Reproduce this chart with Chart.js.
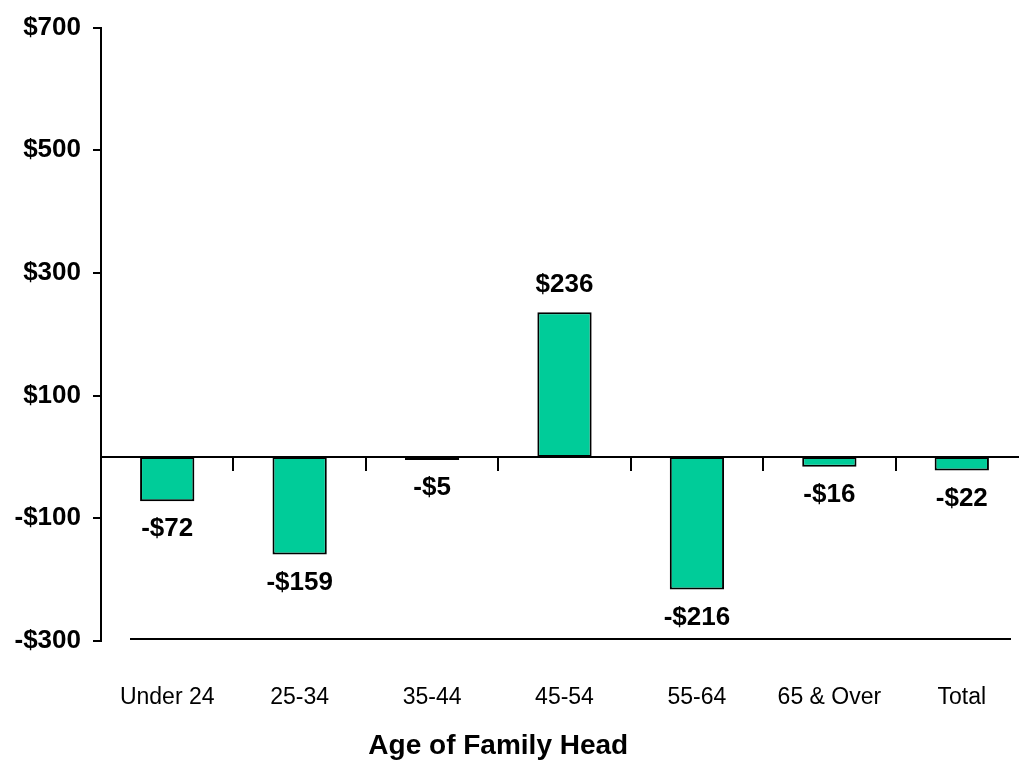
<!DOCTYPE html>
<html>
<head>
<meta charset="utf-8">
<script src="https://cdn.jsdelivr.net/npm/chart.js@4/dist/chart.umd.min.js"></script>
<style>
  html, body { margin: 0; padding: 0; background: #fff; overflow: hidden; }
  #wrap { width: 1040px; height: 760px; }
</style>
</head>
<body>
<div id="wrap"><canvas id="c" width="1040" height="760"></canvas></div>
<script>
const categories = ["Under 24", "25-34", "35-44", "45-54", "55-64", "65 & Over", "Total"];
const changeValues = [-72, -159, -5, 236, -216, -16, -22];
const yTickValues = [-300, -100, 100, 300, 500, 700];
const axisTitle = "Age of Family Head";

const FONT = '"Liberation Sans", Arial, Helvetica, sans-serif';
const BAR_COLOR = '#00CC99';

function money(v) {
  return (v < 0 ? '-$' : '$') + Math.abs(v);
}

const valueLabels = {
  id: 'valueLabels',
  afterDatasetsDraw(chart) {
    const ctx = chart.ctx;
    const meta = chart.getDatasetMeta(0);
    ctx.save();
    ctx.font = 'bold 26px ' + FONT;
    ctx.fillStyle = '#000';
    ctx.textAlign = 'center';
    ctx.textBaseline = 'middle';
    meta.data.forEach((bar, i) => {
      const v = changeValues[i];
      const y = v >= 0 ? bar.y - 27 : bar.y + 28;
      ctx.fillText(money(v), bar.x, y);
    });
    ctx.restore();
  }
};

const extras = {
  id: 'extras',
  afterDraw(chart) {
    const ctx = chart.ctx;
    const ys = chart.scales.y;
    const xs = chart.scales.x;
    const area = chart.chartArea;
    ctx.save();
    // bottom rule at the axis minimum
    const yb = Math.round(ys.getPixelForValue(yTickValues[0])) - 2;
    ctx.strokeStyle = '#000';
    ctx.lineWidth = 2;
    ctx.beginPath();
    ctx.moveTo(area.left + 29, yb);
    ctx.lineTo(area.right - 17, yb);
    ctx.stroke();
    // axis title
    ctx.font = 'bold 28px ' + FONT;
    ctx.fillStyle = '#000';
    ctx.textAlign = 'center';
    ctx.textBaseline = 'middle';
    ctx.fillText(axisTitle, xs.getPixelForValue(2.5), area.bottom + 105);
    ctx.restore();
  }
};

new Chart(document.getElementById('c'), {
  type: 'bar',
  data: {
    labels: categories,
    datasets: [{
      data: changeValues,
      backgroundColor: BAR_COLOR,
      borderColor: '#000',
      borderWidth: 2,
      borderSkipped: false,
      barPercentage: 0.41,
      categoryPercentage: 1.0,
      xAxisID: 'x',
      yAxisID: 'y'
    }]
  },
  options: {
    responsive: false,
    animation: false,
    layout: { padding: { top: 24, right: 12, bottom: 0, left: 0 } },
    plugins: {
      legend: { display: false },
      tooltip: { enabled: false },
      title: { display: false }
    },
    scales: {
      x: {
        type: 'category',
        position: 'bottom',
        offset: true,
        grid: { display: false, drawTicks: false },
        border: { display: false },
        ticks: {
          color: '#000',
          font: { family: FONT, size: 23 },
          padding: 43,
          maxRotation: 0,
          autoSkip: false
        },
        afterFit(scale) { scale.height = 119; }
      },
      x0: {
        type: 'category',
        position: { y: 0 },
        offset: true,
        grid: {
          display: true,
          drawOnChartArea: false,
          drawTicks: true,
          tickLength: 13,
          color: '#000',
          lineWidth: 2
        },
        border: { display: true, color: '#000', width: 2 },
        ticks: { display: false }
      },
      y: {
        type: 'linear',
        position: 'left',
        min: yTickValues[0],
        max: yTickValues[yTickValues.length - 1],
        afterBuildTicks(scale) {
          scale.ticks = yTickValues.map(v => ({ value: v }));
        },
        grid: {
          display: true,
          drawOnChartArea: false,
          drawTicks: true,
          tickLength: 8,
          color: '#000',
          lineWidth: 2
        },
        border: { display: true, color: '#000', width: 2 },
        ticks: {
          color: '#000',
          font: { family: FONT, size: 26, weight: 'bold' },
          padding: 12,
          callback: v => money(v)
        },
        afterFit(scale) { scale.width = 101; }
      }
    }
  },
  plugins: [valueLabels, extras]
});
</script>
</body>
</html>
